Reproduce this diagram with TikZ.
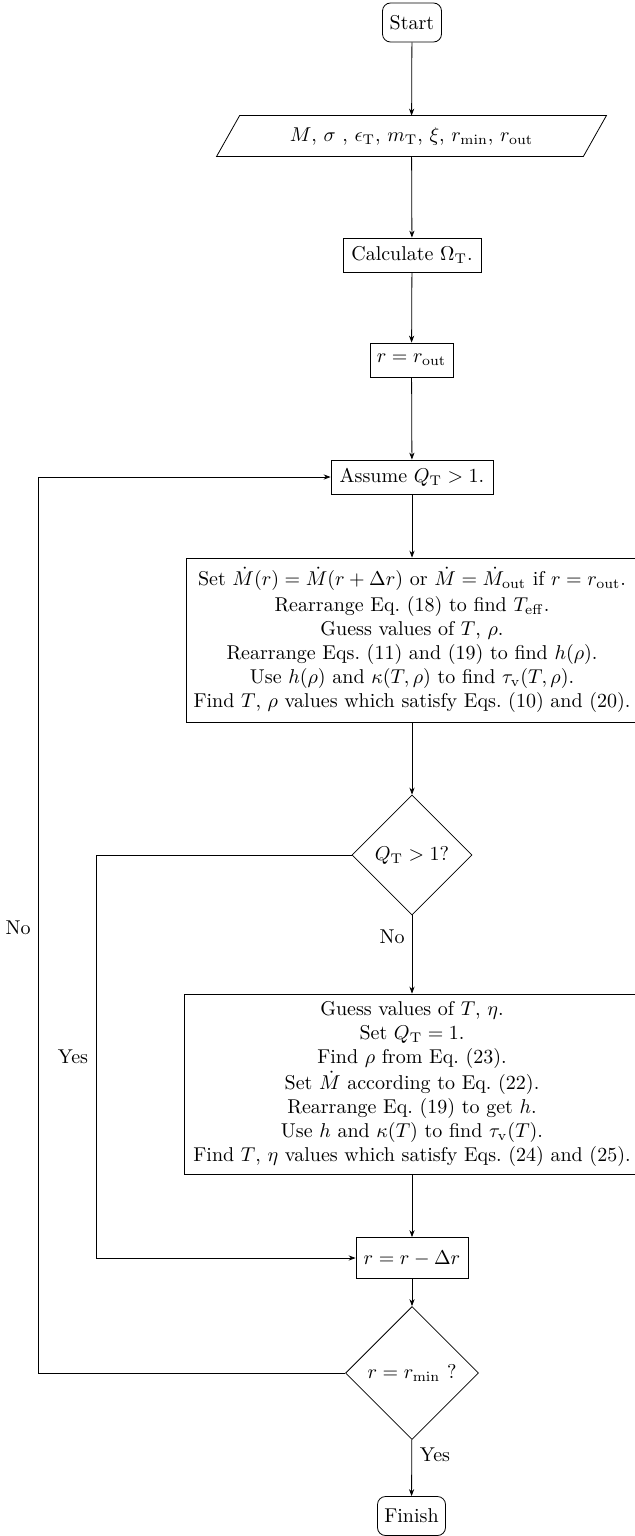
\documentclass[tikz,border=0pt]{standalone}
\usetikzlibrary{shapes.geometric,arrows.meta}
\begin{document}
\begin{tikzpicture}[x=0.5pt,y=-0.5pt,
  every node/.style={inner sep=1pt},
  proc/.style={draw, rectangle, align=center, inner sep=1pt},
  term/.style={draw, rectangle, rounded corners=4pt, align=center},
  dec/.style={draw, diamond, aspect=1, inner sep=0pt},
  lab/.style={inner sep=0pt},
  arr/.style={-{Stealth[length=3.5pt,width=2.6pt]}}]
\useasboundingbox (0,0) rectangle (635,1536);
\clip (0,0) rectangle (635,1536);

\node[term, minimum width=29.5pt, minimum height=19.5pt] (start) at (412,22.5) {Start};
\node[minimum width=183pt, minimum height=20pt] (in) at (411.5,136)
  {$M$, $\sigma$ , $\epsilon_{\mathrm{T}}$, $m_{\mathrm{T}}$, $\xi$, $r_{\min}$, $r_{\mathrm{out}}$};
\draw ([xshift=-5.75pt]in.south west) -- ([xshift=5.75pt]in.north west)
   -- ([xshift=5.75pt]in.north east) -- ([xshift=-5.75pt]in.south east) -- cycle;
\node[proc, minimum width=69pt, minimum height=17pt] (calc) at (412,255) {Calculate $\Omega_{\mathrm{T}}$.};
\node[proc, minimum width=41.5pt, minimum height=17pt] (rout) at (411.5,360) {$r=r_{\mathrm{out}}$};
\node[proc, minimum width=81pt, minimum height=17pt] (assume) at (412,477) {Assume $Q_{\mathrm{T}}>1$.};
\node[proc, minimum width=226pt, minimum height=82pt] (b1) at (412,640)
  {Set $\dot M(r)=\dot M(r+\Delta r)$ or $\dot M=\dot M_{\mathrm{out}}$ if $r=r_{\mathrm{out}}$.\\[1pt]
   Rearrange Eq.~(18) to find $T_{\mathrm{eff}}$.\\
   Guess values of $T$, $\rho$.\\
   Rearrange Eqs.~(11) and (19) to find $h(\rho)$.\\
   Use $h(\rho)$ and $\kappa(T,\rho)$ to find $\tau_{\mathrm{v}}(T,\rho)$.\\
   Find $T$, $\rho$ values which satisfy Eqs.~(10) and (20).};
\node[dec, minimum size=60pt] (d1) at (412,855) {$Q_{\mathrm{T}}>1$?};
\node[proc, minimum width=228pt, minimum height=90pt] (b2) at (412,1084)
  {Guess values of $T$, $\eta$.\\
   Set $Q_{\mathrm{T}}=1$.\\
   Find $\rho$ from Eq.~(23).\\[1pt]
   Set $\dot M$ according to Eq.~(22).\\
   Rearrange Eq.~(19) to get $h$.\\
   Use $h$ and $\kappa(T)$ to find $\tau_{\mathrm{v}}(T)$.\\
   Find $T$, $\eta$ values which satisfy Eqs.~(24) and (25).};
\node[proc, minimum width=56pt, minimum height=20.5pt] (rdr) at (412,1258) {$r=r-\Delta r$};
\node[dec, minimum size=66.5pt] (d2) at (412,1373) {$r=r_{\min}$ ?};
\node[term, minimum width=34pt, minimum height=19.5pt] (fin) at (411.5,1516) {Finish};

\coordinate (c1) at (38,1373);
\coordinate (c2) at (38,477);
\coordinate (c3) at (96,855);
\coordinate (c4) at (96,1258);

\draw[arr] (start) -- (in);
\draw[arr] (in) -- (calc);
\draw[arr] (calc) -- (rout);
\draw[arr] (rout) -- (assume);
\draw[arr] (assume) -- (b1);
\draw[arr] (b1) -- (d1);
\draw[arr] (d1) -- (b2);
\draw[arr] (b2) -- (rdr);
\draw[arr] (rdr) -- (d2);
\draw[arr] (d2) -- (fin);
\draw[arr] (d2.west) -- (c1) -- (c2) -- (assume.west);
\draw[arr] (d1.west) -- (c3) -- (c4) -- (rdr.west);

\node[lab] (no1) at (392,937) {No};
\node[lab] (no2) at (18,928) {No};
\node[lab] (yes1) at (73,1057) {Yes};
\node[lab] (yes2) at (435,1455) {Yes};
\end{tikzpicture}
\end{document}
